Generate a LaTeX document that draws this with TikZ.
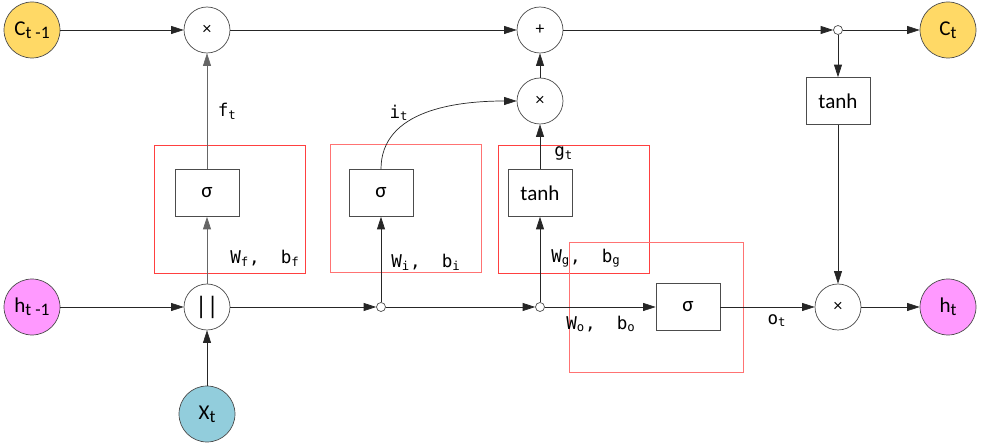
\documentclass[tikz,border=0pt]{standalone}
\usepackage{fontspec}
\setmainfont{Carlito}
\setmonofont{DejaVu Sans Mono}
\usepackage{tikz}
\usetikzlibrary{positioning,arrows.meta,calc}

\definecolor{cellC}{HTML}{FFD966}
\definecolor{cellH}{HTML}{FF99FF}
\definecolor{cellX}{HTML}{92CDDC}

\newcommand{\lsub}[1]{\raisebox{-0.3ex}{\normalsize #1}}

\begin{document}
\begin{tikzpicture}[
  x=0.02cm, y=-0.02cm, font=\large,
  >={Triangle[length=2.5mm,width=1.6mm]},
  state/.style={draw=black!70, circle, minimum size=1.12cm, inner sep=0pt},
  op/.style={draw=black!70, circle, fill=white, minimum size=0.92cm, inner sep=0pt, font=\normalsize},
  dot/.style={draw=black!70, circle, fill=white, minimum size=0.18cm, inner sep=0pt},
  act/.style={draw=black!70, fill=white, minimum width=1.28cm, minimum height=0.94cm, inner sep=0pt},
  gatebox/.style={draw=red!75},
  lbl/.style={font=\ttfamily, text=black, inner sep=1pt},
  arr/.style={->, black!85},
]
\useasboundingbox (0,0) rectangle (981,445);

% gate frames
\draw[gatebox] (154,145) rectangle (305,273);
\draw[gatebox, draw=red!55] (330,144) rectangle (481,272);
\draw[gatebox] (498,145) rectangle (649,273);
\draw[gatebox, draw=red!55] (569,242) rectangle (743,372);

% states
\node[state, fill=cellC] (c0) at (32,30) {C\lsub{t -1}};
\node[state, fill=cellC] (c1) at (948,30) {C\lsub{t}};
\node[state, fill=cellH] (h0) at (32,307) {h\lsub{t -1}};
\node[state, fill=cellH] (h1) at (948,307) {h\lsub{t}};
\node[state, fill=cellX] (x0) at (207,414) {X\lsub{t}};

% operations
\node[op] (mf) at (207,30) {×};
\node[op] (add) at (540,30) {+};
\node[op] (mi) at (540,101) {×};
\node[op, font=\Large] (cat) at (207,307) {||};
\node[op] (mo) at (838,307) {×};
\node[dot] (dc) at (838,30) {};
\node[dot] (d1) at (381,307) {};
\node[dot] (d2) at (540,307) {};

% activations
\node[act] (sf) at (207,193) {σ};
\node[act] (si) at (381,193) {σ};
\node[act] (tg) at (540,193) {tanh};
\node[act] (so) at (688,307) {σ};
\node[act] (tc) at (838,101) {tanh};

% cell state line
\draw[arr] (c0) -- (mf);
\draw[arr] (mf) -- (add);
\draw[arr] (add) -- (dc);
\draw[arr] (dc) -- (c1);
\draw[arr] (dc) -- (tc);
\draw[arr] (tc) -- (mo);
\draw[arr] (mi) -- (add);

% hidden state line
\draw[arr] (h0) -- (cat);
\draw[arr] (x0) -- (cat);
\draw[arr] (cat) -- (d1);
\draw[arr] (d1) -- (d2);
\draw[arr] (d2) -- (so);
\draw[arr] (so) -- node[lbl, pos=0.6, below=3pt]{o\textsubscript{t}} (mo);
\draw[arr] (mo) -- (h1);

% gates
\draw[arr, black!60] (cat) -- (sf);
\draw[arr, black!60] (sf) -- node[lbl, pos=0.5, right=5pt]{f\textsubscript{t}} (mf);
\draw[arr] (d1) -- (si);
\draw[arr] (si.north) to[out=90, in=180] node[lbl, pos=0.3, above=3pt]{i\textsubscript{t}} (mi.west);
\draw[arr] (d2) -- (tg);
\draw[arr] (tg) -- node[lbl, pos=0.35, right=7pt]{g\textsubscript{t}} (mi);

% weights
\node[lbl] (wf) at (265,258) {W\textsubscript{f}, \ b\textsubscript{f}};
\node[lbl] (wi) at (426,262) {W\textsubscript{i}, \ b\textsubscript{i}};
\node[lbl] (wg) at (586,258) {W\textsubscript{g}, \ b\textsubscript{g}};
\node[lbl] (wo) at (601,324) {W\textsubscript{o}, \ b\textsubscript{o}};
\end{tikzpicture}
\end{document}
